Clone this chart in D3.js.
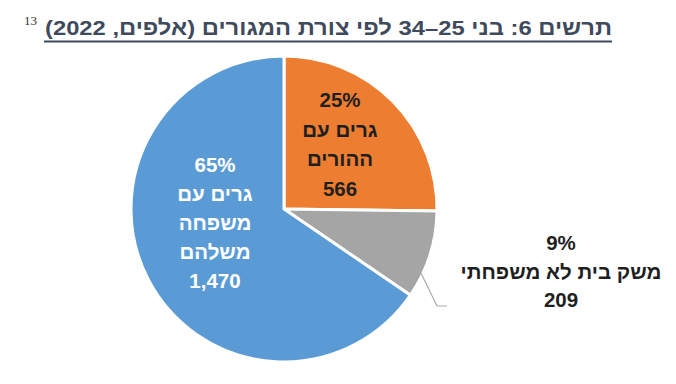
<!DOCTYPE html>
<html><head><meta charset="utf-8">
<script src="https://cdn.jsdelivr.net/npm/d3@7"></script>
<style>body{margin:0;background:#fff}svg{display:block}</style>
</head><body>
<script>
const categories = ["גרים עם ההורים", "משק בית לא משפחתי", "גרים עם משפחה משלהם"];
const values = [566, 209, 1470];
const percents = ["25%", "9%", "65%"];
const labelLines = [["גרים עם", "ההורים"], ["משק בית לא משפחתי"], ["גרים עם", "משפחה", "משלהם"]];
const valueLabels = ["566", "209", "1,470"];
const title = "תרשים 6: בני 25–34 לפי צורת המגורים (אלפים, 2022)";
const footnote = "13";

const W = 676, H = 384;
const colors = ["#ED7D31", "#A5A5A5", "#5B9BD5"];
const svg = d3.select("body").append("svg").attr("width", W).attr("height", H);

// title
const tcol = "#3f4b5d";
svg.append("text").attr("x", 612).attr("y", 35)
  .attr("text-anchor", "start").attr("direction", "rtl")
  .attr("font-family", "Liberation Sans, Arial, sans-serif").attr("font-weight", "bold")
  .attr("font-size", 21).attr("fill", tcol)
  .attr("textLength", 567).attr("lengthAdjust", "spacingAndGlyphs")
  .text(title);
svg.append("line").attr("x1", 44).attr("x2", 612).attr("y1", 41.5).attr("y2", 41.5)
  .attr("stroke", tcol).attr("stroke-width", 2);
svg.append("text").attr("x", 24).attr("y", 25).attr("font-family", "Liberation Serif, serif")
  .attr("font-size", 13).attr("fill", "#333").text(footnote);

const cx = 284, cy = 209, R = 153;
const g = svg.append("g").attr("transform", `translate(${cx},${cy})`);
const pie = d3.pie().sort(null).value(d => d)(values);
const arc = d3.arc().innerRadius(0).outerRadius(R);
g.selectAll("path").data(pie).join("path")
  .attr("d", arc).attr("fill", (d, i) => colors[i])
  .attr("stroke", "#fff").attr("stroke-width", 3).attr("stroke-linejoin", "miter");

// label placement (offsets relative to centre)
const labelPos = [
  {x: 56, y: -102, dy: 29.6, color: "#1f1f1f", size: 20.5},
  {x: 277, y: 41, dy: 28.5, color: "#1f1f1f", size: 20.5},
  {x: -69, y: -37, dy: 29, color: "#ffffff", size: 20.5}
];
pie.forEach((d, i) => {
  const p = labelPos[i];
  const lines = [percents[i], ...labelLines[i], valueLabels[i]];
  const tx = g.append("text").attr("font-family", "Liberation Sans, Arial, sans-serif")
    .attr("font-weight", "bold").attr("font-size", p.size).attr("fill", p.color)
    .attr("text-anchor", "middle");
  lines.forEach((l, j) => {
    tx.append("tspan").attr("x", p.x).attr("y", p.y + j * p.dy).text(l);
  });
});

// leader line for grey slice
const gd = pie[1];
const mid = (gd.startAngle + gd.endAngle) / 2 + 0.12;
const p0 = [Math.sin(mid) * (R - 4), -Math.cos(mid) * (R - 4)];
const p1 = [153, 97];
const p2 = [163, 97];
g.append("polyline").attr("points", [p0, p1, p2].map(p => p.join(",")).join(" "))
  .attr("fill", "none").attr("stroke", "#ababab").attr("stroke-width", 1.2);
</script>
</body></html>
